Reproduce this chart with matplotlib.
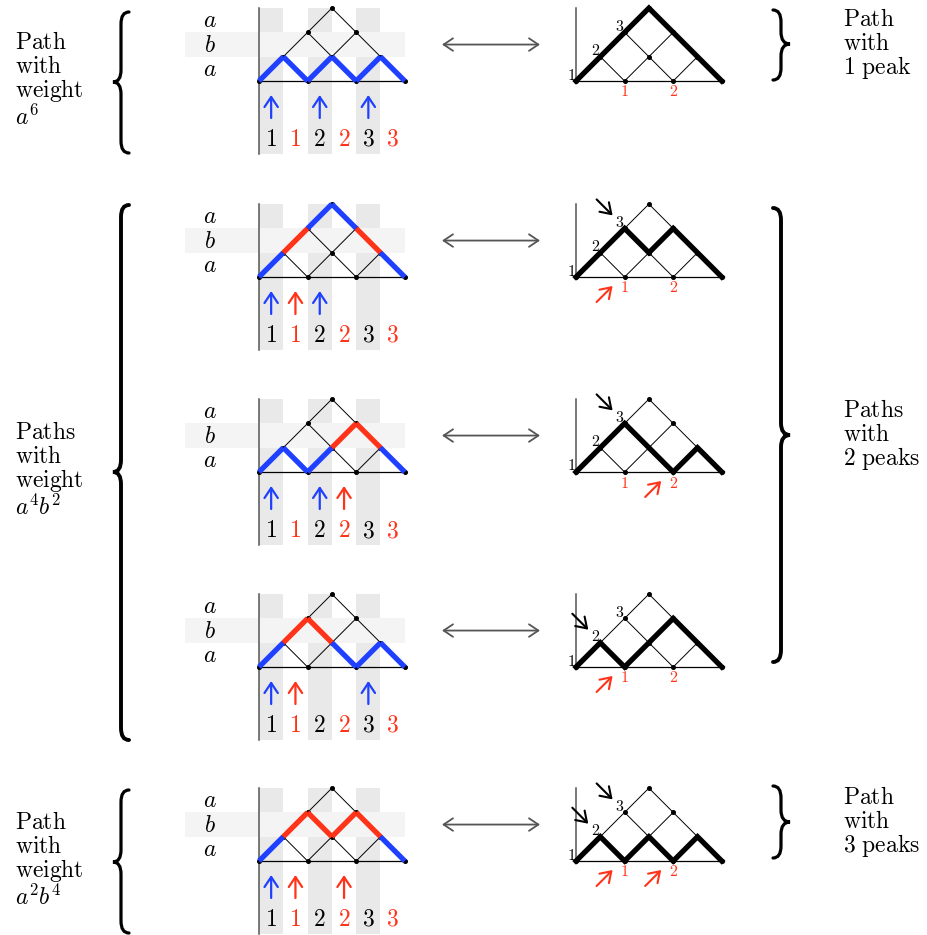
import numpy as np
import matplotlib
matplotlib.use('Agg')
import matplotlib.pyplot as plt
from matplotlib.path import Path
from matplotlib.patches import PathPatch, Rectangle

plt.rcParams['mathtext.fontset'] = 'cm'

# Dyck paths of semi-length 3 (U = up step, D = down step)
left_paths = ['UDUDUD', 'UUUDDD', 'UDUUDD', 'UUDDUD', 'UUDUDD']
right_paths = ['UUUDDD', 'UUDUDD', 'UUDDUD', 'UDUUDD', 'UDUDUD']
# labels on the left edge / on the base that get an arrow
black_marks = [[], [3], [3], [2], [2, 3]]
red_marks = [[], [1], [2], [1], [1, 2]]

level_labels = ['a', 'b', 'a']          # levels 0-1, 1-2, 2-3
column_labels = ['1', '1', '2', '2', '3', '3']
left_edge_labels = ['1', '2', '3']
base_labels = ['1', '2']

left_groups = [(['Path', 'with', 'weight', 'a^6'], 0, 0),
               (['Paths', 'with', 'weight', 'a^4b^2'], 1, 3),
               (['Path', 'with', 'weight', 'a^2b^4'], 4, 4)]
right_groups = [(['Path', 'with', '1\\ peak'], 0, 0),
                (['Paths', 'with', '2\\ peaks'], 1, 3),
                (['Path', 'with', '3\\ peaks'], 4, 4)]

# layout (pixel coordinates)
row_base = [81, 277, 472, 667, 861]
left_brace = [(12, 82, 153), (205, 472, 740), (790, 862, 933)]
right_brace = [(10, 44, 80), (208, 435, 662), (786, 822, 858)]
U = 24.3
LX, RX = 259, 576
BLUE = '#1f40ff'
RED = '#ff3319'
N = 6


def lattice():
    pts = [(i, j) for i in range(N + 1) for j in range(N // 2 + 1)
           if j <= i and j <= N - i and (i + j) % 2 == 0]
    pset = set(pts)
    edges = []
    for (i, j) in pts:
        for dj in (1, -1):
            if (i + 1, j + dj) in pset:
                edges.append(((i, j), (i + 1, j + dj)))
    return pts, edges


def heights(word):
    h = [0]
    for s in word:
        h.append(h[-1] + (1 if s == 'U' else -1))
    return h


def to_px(x0, base, i, j):
    return x0 + i * U, base - j * U


def draw_grid(ax, x0, base, vline_low):
    pts, edges = lattice()
    for p, q in edges:
        xa, ya = to_px(x0, base, *p)
        xb, yb = to_px(x0, base, *q)
        ax.plot([xa, xb], [ya, yb], color='black', lw=0.7, zorder=3)
    ax.plot([x0, x0 + N * U], [base, base], color='black', lw=0.9, zorder=3)
    ax.plot([x0, x0], [base + vline_low * U, base - 3 * U], color='#555555',
            lw=1.1, zorder=3)
    xs = [to_px(x0, base, *p)[0] for p in pts]
    ys = [to_px(x0, base, *p)[1] for p in pts]
    ax.plot(xs, ys, 'o', color='black', ms=2.6, zorder=4)


def brace(ax, x_end, x_mid, x_tip, y_top, y_tip, y_bot, lw):
    c = 12
    verts = [(x_end, y_top), (x_mid, y_top), (x_mid, y_top + c),
             (x_mid, y_tip - c), (x_mid, y_tip), (x_tip, y_tip),
             (x_mid, y_tip), (x_mid, y_tip + c),
             (x_mid, y_bot - c), (x_mid, y_bot), (x_end, y_bot)]
    codes = [Path.MOVETO, Path.CURVE3, Path.CURVE3,
             Path.LINETO, Path.CURVE3, Path.CURVE3,
             Path.CURVE3, Path.CURVE3,
             Path.LINETO, Path.CURVE3, Path.CURVE3]
    ax.add_patch(PathPatch(Path(verts, codes), fill=False, lw=lw,
                           color='black', capstyle='round'))


def arrow(ax, x0, y0, x1, y1, color, lw=1.6, style='->', ms=16):
    ax.annotate('', xy=(x1, y1), xytext=(x0, y0),
                arrowprops=dict(arrowstyle=style + ',head_length=0.45,head_width=0.3',
                                color=color, lw=lw,
                                mutation_scale=ms, shrinkA=0, shrinkB=0))


fig = plt.figure(figsize=(9.27, 9.35), dpi=100)
ax = fig.add_axes([0, 0, 1, 1])
ax.set_xlim(0, 927)
ax.set_ylim(935, 0)
ax.axis('off')

for r, base in enumerate(row_base):
    # ---- left diagram: weighted path ----
    for k in range(0, N, 2):
        ax.add_patch(Rectangle((LX + k * U, base - 3 * U), U, 6 * U,
                               color='#e9e9e9', lw=0, zorder=1))
    ax.add_patch(Rectangle((185, base - 2 * U), LX + N * U - 185, U,
                           color='#f4f4f4', lw=0, zorder=2))
    draw_grid(ax, LX, base, 3)
    for k, lab in enumerate(level_labels):
        ax.text(210, base - (k + 0.5) * U, f'${lab}$', fontsize=17,
                ha='center', va='center')

    h = heights(left_paths[r])
    for k, s in enumerate(left_paths[r]):
        lo = min(h[k], h[k + 1])
        col = RED if lo == 1 else BLUE
        xa, ya = to_px(LX, base, k, h[k])
        xb, yb = to_px(LX, base, k + 1, h[k + 1])
        ax.plot([xa, xb], [ya, yb], color=col, lw=3.8,
                solid_capstyle='butt', zorder=5)
        if s == 'U':
            xc = LX + (k + 0.5) * U
            arrow(ax, xc, base + 37, xc, base + 14, col)
    for k, lab in enumerate(column_labels):
        ax.text(LX + (k + 0.5) * U, base + 58, f'$\\mathrm{{{lab}}}$',
                fontsize=17, ha='center', va='center',
                color='black' if k % 2 == 0 else RED)

    # ---- correspondence arrow ----
    arrow(ax, 442, base - 1.5 * U, 540, base - 1.5 * U, '#555555',
          lw=1.3, style='<->', ms=15)

    # ---- right diagram: path with peaks ----
    draw_grid(ax, RX, base, 0)
    h = heights(right_paths[r])
    xs = [RX + k * U for k in range(N + 1)]
    ys = [base - v * U for v in h]
    ax.plot(xs, ys, color='black', lw=3.8, solid_joinstyle='miter', zorder=5)
    for k, lab in enumerate(left_edge_labels):
        px, py = to_px(RX, base, k, k)
        ax.text(px - 5, py - 6, f'$\\mathrm{{{lab}}}$', fontsize=11.5,
                ha='center', va='center', zorder=6)
    for m, lab in enumerate(base_labels):
        px, py = to_px(RX, base, 2 * (m + 1), 0)
        ax.text(px, py + 11, f'$\\mathrm{{{lab}}}$', fontsize=11.5,
                ha='center', va='center', color=RED)
    for m in black_marks[r]:
        px, py = to_px(RX, base, m - 1, m - 1)
        arrow(ax, px - 28, py - 29, px - 12, py - 13, 'black', lw=1.5)
    for m in red_marks[r]:
        px, py = to_px(RX, base, 2 * m, 0)
        arrow(ax, px - 28, py + 25, px - 12, py + 9, RED, lw=1.5)

# ---- braces and group texts ----
for (lines, r0, r1), (yt, ytip, yb) in zip(left_groups, left_brace):
    brace(ax, 129, 121, 113, yt, ytip, yb, 2.3 if r0 == r1 else 2.8)
    for n, s in enumerate(lines):
        if n == 3:
            txt, y = f'${s}$', ytip - 33 + 3 * 24 + 4
        else:
            txt, y = f'$\\mathrm{{{s}}}$', ytip - 33 + n * 24
        ax.text(15, y, txt, fontsize=17, ha='left', va='baseline')

for (lines, r0, r1), (yt, ytip, yb) in zip(right_groups, right_brace):
    brace(ax, 773, 781, 790, yt, ytip, yb, 2.3 if r0 == r1 else 2.8)
    for n, s in enumerate(lines):
        ax.text(843, ytip - 18 + n * 24, f'$\\mathrm{{{s}}}$', fontsize=17,
                ha='left', va='baseline')

fig.savefig('out.png', dpi=100)
